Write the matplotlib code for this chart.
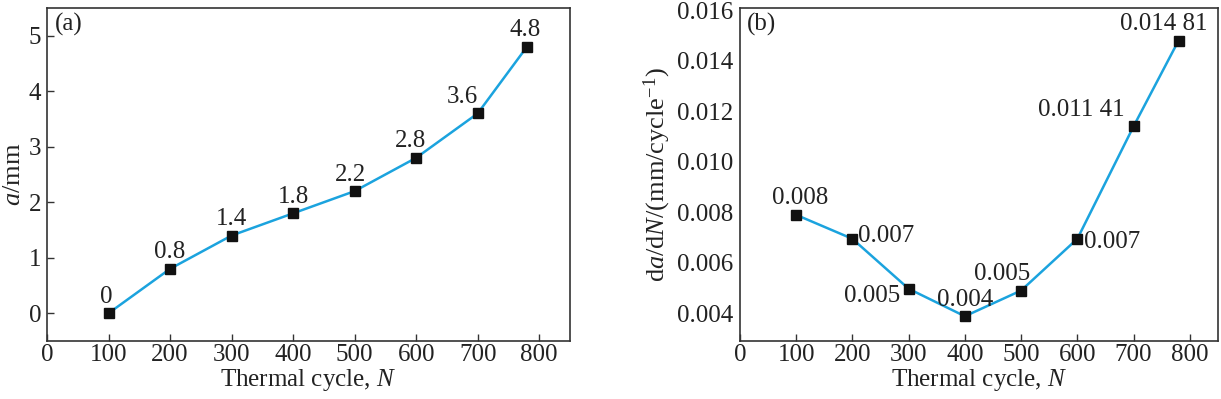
import matplotlib
matplotlib.use("Agg")
import matplotlib.pyplot as plt
from matplotlib.ticker import FormatStrFormatter

plt.rcParams['font.family'] = ['Liberation Serif', 'DejaVu Serif']
plt.rcParams['mathtext.fontset'] = 'custom'
plt.rcParams['mathtext.rm'] = 'Liberation Serif'
plt.rcParams['mathtext.it'] = 'Liberation Serif:italic'

# Data
cycles = [100, 200, 300, 400, 500, 600, 700, 780]
crack_len = [0, 0.8, 1.4, 1.8, 2.2, 2.8, 3.6, 4.8]
crack_labels = ['0', '0.8', '1.4', '1.8', '2.2', '2.8', '3.6', '4.8']
rate = [0.0079, 0.00695, 0.00497, 0.00388, 0.0049, 0.00695, 0.01141, 0.01481]
rate_labels = ['0.008', '0.007', '0.005', '0.004', '0.005', '0.007', '0.011 41', '0.014 81']
xticks = [0, 100, 200, 300, 400, 500, 600, 700, 800]
yticks_a = [0, 1, 2, 3, 4, 5]
yticks_b = [0.004, 0.006, 0.008, 0.010, 0.012, 0.014, 0.016]

line_color = '#1ba3de'
fs = 18
txt = '#222222'

fig = plt.figure(figsize=(12.21, 3.99), dpi=100)
ax1 = fig.add_axes([0.0385, 0.1454, 0.4283, 0.8346])
ax2 = fig.add_axes([0.606, 0.1454, 0.3915, 0.8346])

for ax in (ax1, ax2):
    for s in ax.spines.values():
        s.set_color('#333333')
        s.set_linewidth(1.2)
    ax.set_xlim(0, 850)
    ax.set_xticks(xticks)
    ax.tick_params(axis='both', labelsize=fs, direction='in', length=5, width=1,
                   colors='#333333', labelcolor=txt, pad=2)
    ax.set_xlabel('Thermal cycle, $N$', fontsize=fs, labelpad=1, color=txt)

# Panel (a)
ax1.plot(cycles, crack_len, color=line_color, lw=1.8, marker='s', ms=6.5,
         mfc='#111111', mec='#111111', zorder=3)
ax1.set_ylim(-0.5, 5.5)
ax1.set_yticks(yticks_a)
ax1.tick_params(axis='y', pad=4)
ax1.set_ylabel('$a$/mm', fontsize=fs + 1, labelpad=3, color=txt)
offs_a = [(-2, 4), (0, 4), (0, 4), (0, 4), (-3, 4), (-4, 4), (-11, 4), (-1, 4)]
for x, y, t, o in zip(cycles, crack_len, crack_labels, offs_a):
    ax1.annotate(t, (x, y), xytext=o, textcoords='offset points', ha='center',
                 va='bottom', fontsize=fs, color=txt)
ax1.text(0.015, 0.985, '(a)', transform=ax1.transAxes, ha='left', va='top',
         fontsize=fs, color=txt)

# Panel (b)
ax2.plot(cycles, rate, color=line_color, lw=1.8, marker='s', ms=6.5,
         mfc='#111111', mec='#111111', zorder=3)
ax2.set_ylim(0.0029, 0.0161)
ax2.set_yticks(yticks_b)
ax2.yaxis.set_major_formatter(FormatStrFormatter('%.3f'))
ax2.tick_params(axis='y', length=0, pad=5)
ax2.set_ylabel('d$a$/d$N$/(mm/cycle$^{-1}$)', fontsize=fs + 1, labelpad=3, color=txt)
offs_b = [((3, 4), 'center', 'bottom'),
          ((4, 2), 'left', 'center'),
          ((-6, -5), 'right', 'center'),
          ((0, 4), 'center', 'bottom'),
          ((-14, 4), 'center', 'bottom'),
          ((5, -2), 'left', 'center'),
          ((-38, 4), 'center', 'bottom'),
          ((-11, 4), 'center', 'bottom')]
for x, y, t, (o, ha, va) in zip(cycles, rate, rate_labels, offs_b):
    ax2.annotate(t, (x, y), xytext=o, textcoords='offset points', ha=ha, va=va,
                 fontsize=fs, color=txt)
ax2.text(0.015, 0.985, '(b)', transform=ax2.transAxes, ha='left', va='top',
         fontsize=fs, color=txt)

fig.savefig('out.png', dpi=100)
